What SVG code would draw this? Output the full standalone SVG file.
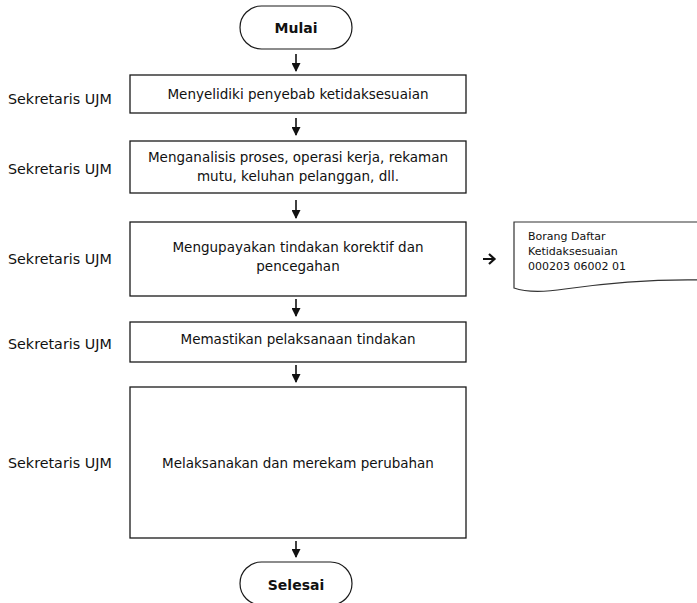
<svg xmlns="http://www.w3.org/2000/svg" width="697" height="603" viewBox="0 0 697 603">
<style>
  .box { fill: #ffffff; stroke: #1a1a1a; stroke-width: 1.3; }
  .term { fill: #ffffff; stroke: #1a1a1a; stroke-width: 1.2; }
  .t { font-family: "DejaVu Sans", Verdana, sans-serif; font-size: 13.5px; fill: #111; text-anchor: middle; }
  .tb { font-family: "DejaVu Sans", Verdana, sans-serif; font-size: 14px; font-weight: bold; fill: #111; text-anchor: middle; }
  .lane { font-family: "DejaVu Sans", Verdana, sans-serif; font-size: 14.3px; fill: #111; }
  .doc { font-family: "DejaVu Sans", Verdana, sans-serif; font-size: 11px; fill: #111; }
  .conn { stroke: #111; stroke-width: 1.6; fill: none; }
</style>
<defs>
  <marker id="ah" markerWidth="9" markerHeight="9" refX="8" refY="4.5" orient="auto" markerUnits="userSpaceOnUse">
    <path d="M0,0 L9,4.5 L0,9 Z" fill="#111"/>
  </marker>
</defs>
<rect width="697" height="603" fill="#ffffff"/>

<g id="lanes">
  <text class="lane" x="8" y="104">Sekretaris UJM</text>
  <text class="lane" x="8" y="174">Sekretaris UJM</text>
  <text class="lane" x="8" y="264">Sekretaris UJM</text>
  <text class="lane" x="8" y="349">Sekretaris UJM</text>
  <text class="lane" x="8" y="468">Sekretaris UJM</text>
</g>

<g id="start">
  <rect class="term" x="240" y="6" width="112" height="43" rx="21.5" ry="21.5"/>
  <text class="tb" x="296" y="33">Mulai</text>
</g>

<g id="step1">
  <rect class="box" x="130" y="75" width="336" height="38"/>
  <text class="t" x="298" y="98.5">Menyelidiki penyebab ketidaksesuaian</text>
</g>

<g id="step2">
  <rect class="box" x="130" y="141" width="336" height="52"/>
  <text class="t" x="298" y="162">Menganalisis proses, operasi kerja, rekaman</text>
  <text class="t" x="298" y="181">mutu, keluhan pelanggan, dll.</text>
</g>

<g id="step3">
  <rect class="box" x="130" y="222" width="336" height="74"/>
  <text class="t" x="298" y="252">Mengupayakan tindakan korektif dan</text>
  <text class="t" x="298" y="271">pencegahan</text>
</g>

<g id="document">
  <path d="M702,280 C650,279 600,284 565,289 C545,292 528,293 514,288 L514,222 L702,222" fill="#ffffff" stroke="#333" stroke-width="1.2"/>
  <text class="doc" x="528" y="240">Borang Daftar</text>
  <text class="doc" x="528" y="255">Ketidaksesuaian</text>
  <text class="doc" x="528" y="270">000203 06002 01</text>
</g>

<g id="step4">
  <rect class="box" x="130" y="322" width="336" height="40"/>
  <text class="t" x="298" y="344">Memastikan pelaksanaan tindakan</text>
</g>

<g id="step5">
  <rect class="box" x="130" y="387" width="336" height="151"/>
  <text class="t" x="298" y="468">Melaksanakan dan merekam perubahan</text>
</g>

<g id="end">
  <rect class="term" x="240" y="562" width="112" height="43" rx="21.5" ry="21.5"/>
  <text class="tb" x="296" y="590">Selesai</text>
</g>

<g id="connectors">
  <line class="conn" x1="296" y1="54" x2="296" y2="71" marker-end="url(#ah)"/>
  <line class="conn" x1="296" y1="118" x2="296" y2="135" marker-end="url(#ah)"/>
  <line class="conn" x1="296" y1="200" x2="296" y2="218" marker-end="url(#ah)"/>
  <line class="conn" x1="296" y1="299" x2="296" y2="316" marker-end="url(#ah)"/>
  <line class="conn" x1="296" y1="365" x2="296" y2="382" marker-end="url(#ah)"/>
  <line class="conn" x1="296" y1="541" x2="296" y2="557" marker-end="url(#ah)"/>
  <line x1="483" y1="259" x2="494" y2="259" stroke="#111" stroke-width="2"/>
  <polyline points="489,254 494.5,259 489,264" fill="none" stroke="#111" stroke-width="2.2" stroke-linejoin="miter"/>
</g>
</svg>
